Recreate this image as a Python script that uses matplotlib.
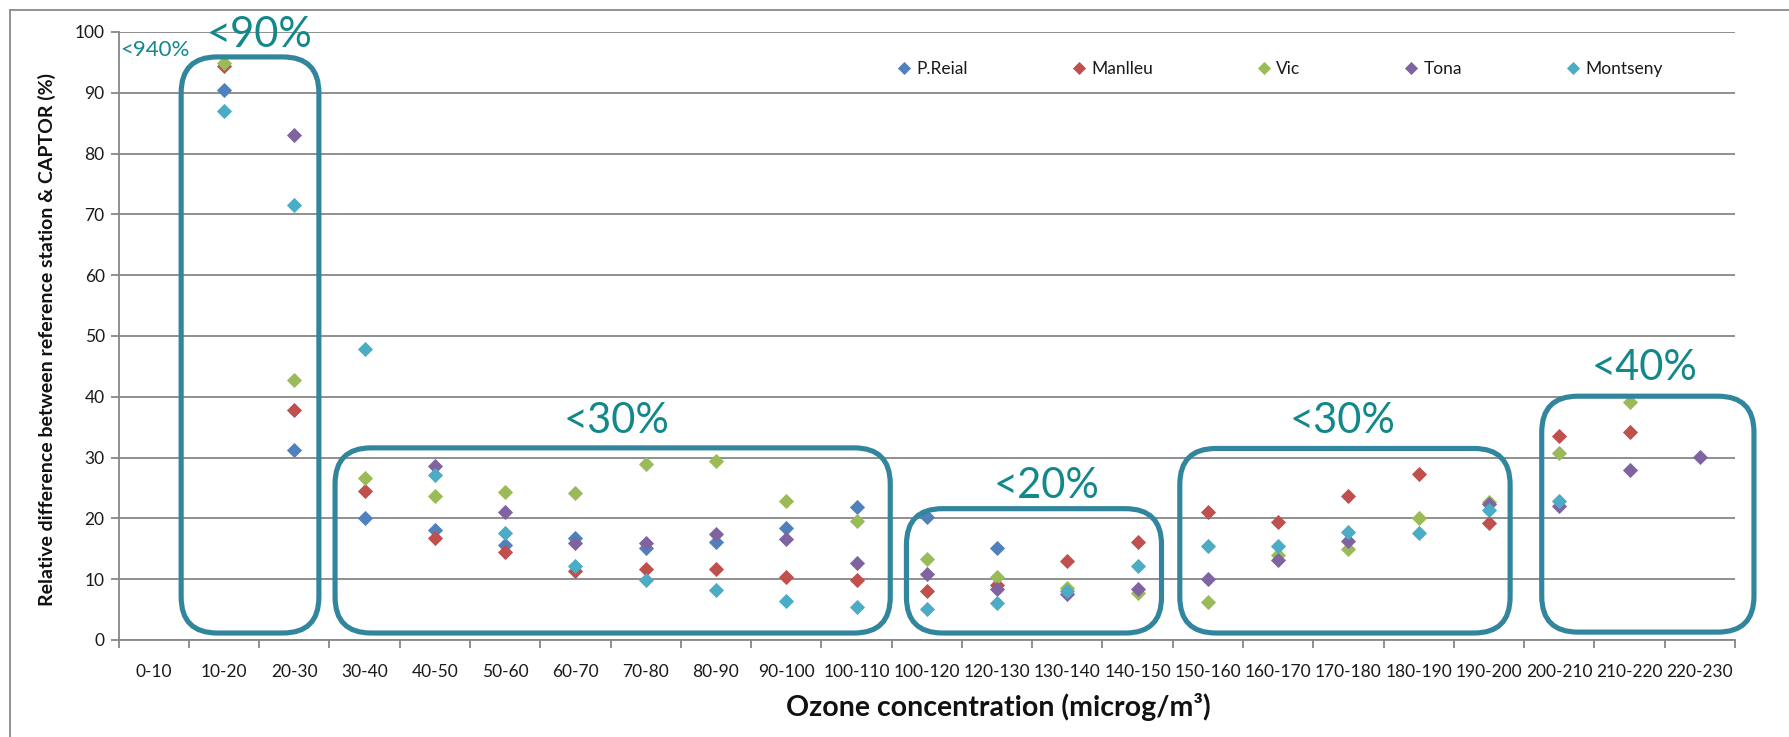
import numpy as np
import matplotlib
matplotlib.use("Agg")
import matplotlib.pyplot as plt
from matplotlib.patches import FancyBboxPatch
from matplotlib.transforms import IdentityTransform
from matplotlib.lines import Line2D

nan = np.nan

categories = ["0-10", "10-20", "20-30", "30-40", "40-50", "50-60", "60-70",
              "70-80", "80-90", "90-100", "100-110", "100-120", "120-130",
              "130-140", "140-150", "150-160", "160-170", "170-180",
              "180-190", "190-200", "200-210", "210-220", "220-230"]

p_reial = [nan, 90.4, 31.2, 20.0, 18.1, 15.6, 16.8, 15.2, 16.2, 18.4, 21.8,
           20.2, 15.1, nan, nan, nan, nan, nan, nan, nan, nan, nan, nan]
manlleu = [nan, 94.4, 37.8, 24.5, 16.8, 14.4, 11.4, 11.7, 11.6, 10.4, 9.8,
           8.1, 9.0, 13.0, 16.1, 21.1, 19.4, 23.7, 27.3, 19.3, 33.5, 34.2, nan]
vic = [nan, 94.9, 42.7, 26.6, 23.7, 24.3, 24.1, 29.0, 29.4, 22.9, 19.6,
       13.3, 10.4, 8.5, 7.8, 6.3, 13.9, 14.9, 20.0, 22.7, 30.7, 39.2, nan]
tona = [nan, nan, 83.0, nan, 28.6, 21.1, 16.0, 16.0, 17.4, 16.6, 12.7,
        10.8, 8.4, 7.5, 8.4, 10.1, 13.2, 16.3, nan, 22.3, 22.1, 28.0, 30.1]
montseny = [nan, 87.0, 71.5, 47.9, 27.1, 17.6, 12.1, 9.8, 8.2, 6.4, 5.5,
            5.1, 6.1, 8.0, 12.1, 15.4, 15.5, 17.7, 17.6, 21.4, 22.9, nan, nan]

series_names = ["P.Reial", "Manlleu", "Vic", "Tona", "Montseny"]
series_values = [p_reial, manlleu, vic, tona, montseny]
series_colors = ["#4F81BD", "#C0504D", "#9BBB59", "#8064A2", "#4BACC6"]

# Highlighted groups: x span (category units), y span (%), label text and anchor
group_x = [(0.39, 2.35), (2.58, 10.48), (10.71, 14.34), (14.60, 19.30), (19.75, 22.77)]
group_y = [(1.15, 95.9), (1.15, 31.6), (1.15, 21.6), (1.15, 31.5), (1.3, 40.1)]
group_labels = ["<90%", "<30%", "<20%", "<30%", "<40%"]
group_label_pos = [(1.51, 97.6), (6.58, 34.1), (12.71, 23.3), (16.91, 34.0), (21.21, 42.8)]

note_text = "<940%"
note_pos = (0.02, 96.05)

FONT = ["Lato", "DejaVu Sans"]
plt.rcParams["font.family"] = FONT

W, H = 1789, 737
fig = plt.figure(figsize=(W / 100, H / 100), dpi=100)
fig.patch.set_facecolor("white")

left, right, top, bottom = 118.6, 1735.0, 32.0, 640.0
ax = fig.add_axes([left / W, 1 - bottom / H, (right - left) / W, (bottom - top) / H])

grid_c = "#878787"
x = np.arange(len(categories))
for name, vals, col in zip(series_names, series_values, series_colors):
    ax.plot(x, vals, linestyle="none", marker="D", markersize=7.2,
            markerfacecolor=col, markeredgecolor=col, markeredgewidth=0.6,
            label=name, zorder=3)

ax.set_xlim(-0.5, len(categories) - 0.5)
ax.set_ylim(0, 100)
ax.set_yticks(np.arange(0, 101, 10))
ax.yaxis.grid(True, color=grid_c, linewidth=1.3)
ax.set_axisbelow(True)

ax.set_xticks(np.arange(-0.5, len(categories), 1.0))
ax.set_xticklabels([])
ax.set_xticks(x, minor=True)
ax.set_xticklabels(categories, minor=True)
ax.tick_params(axis="x", which="major", length=6, width=1.3, color=grid_c, direction="out")
ax.tick_params(axis="x", which="minor", length=0, pad=17, labelsize=12.5, labelcolor="#1a1a1a")
ax.tick_params(axis="y", length=6, width=1.3, color=grid_c, direction="out",
               labelsize=12.5, labelcolor="#1a1a1a", pad=4)

for s in ["top", "right"]:
    ax.spines[s].set_visible(False)
for s in ["left", "bottom"]:
    ax.spines[s].set_color(grid_c)
    ax.spines[s].set_linewidth(1.3)

fig.text(47 / W, 1 - 340 / H,
         "Relative difference between reference station & CAPTOR (%)",
         rotation=90, ha="center", va="center", fontsize=14, fontweight="bold",
         color="#111111")
fig.text(998 / W, 1 - 707 / H, "Ozone concentration (microg/m\u00b3)",
         ha="center", va="center", fontsize=20.5, fontweight="bold", color="#111111")

# Rounded group outlines, drawn in pixel space so corners stay circular
fig.canvas.draw()
box_c = "#31859C"
radius = 36
for (x0, x1), (y0, y1) in zip(group_x, group_y):
    (px0, py0) = ax.transData.transform((x0, y0))
    (px1, py1) = ax.transData.transform((x1, y1))
    patch = FancyBboxPatch((px0, py0), px1 - px0, py1 - py0,
                           boxstyle=f"round,pad=0,rounding_size={radius}",
                           transform=IdentityTransform(), fill=False,
                           edgecolor=box_c, linewidth=3.7, clip_on=False, zorder=5)
    fig.add_artist(patch)

text_c = "#12888A"
for lab, (lx, ly) in zip(group_labels, group_label_pos):
    ax.text(lx, ly, lab, ha="center", va="baseline", fontsize=30, color=text_c,
            clip_on=False, zorder=6)
ax.text(note_pos[0], note_pos[1], note_text, ha="center", va="baseline",
        fontsize=16, color=text_c, clip_on=False, zorder=6)

leg = ax.legend(loc="center", bbox_to_anchor=(1280 / W, 1 - 69 / H),
                bbox_transform=fig.transFigure, ncol=5, frameon=False,
                fontsize=12.5, markerscale=0.8, handlelength=0.8,
                handletextpad=0.3, columnspacing=6.0, borderpad=0)
for t in leg.get_texts():
    t.set_color("#1a1a1a")

# Chart area border (left and top edges)
border_c = "#8a8a8a"
fig.add_artist(Line2D([9.6 / W, 9.6 / W], [0, 1 - 10 / H], transform=fig.transFigure,
                      color=border_c, linewidth=1.3))
fig.add_artist(Line2D([9.6 / W, 1], [1 - 10 / H, 1 - 10 / H], transform=fig.transFigure,
                      color=border_c, linewidth=1.3))

fig.savefig("out.png", dpi=100, facecolor="white")
